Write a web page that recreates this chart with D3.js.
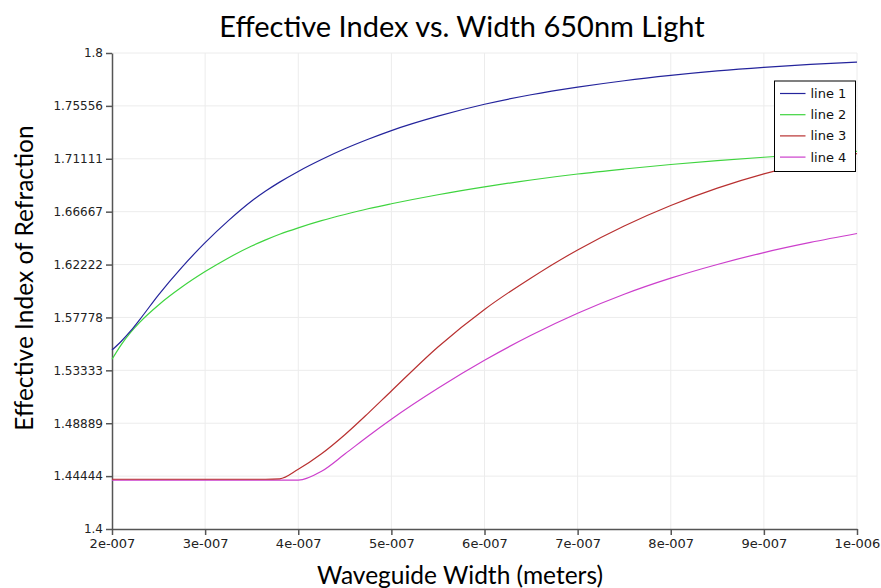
<!DOCTYPE html>
<html>
<head>
<meta charset="utf-8">
<script src="https://cdn.jsdelivr.net/npm/d3@7"></script>
<style>
  body { margin: 0; background: #fff; }
  svg { display: block; }
  .tick text { font-family: "DejaVu Sans", sans-serif; fill: #222; }
</style>
</head>
<body>
<figure id="chart" style="margin:0"></figure>
<script>
// waveguide widths (nm) shared by all series
var widthsNm = [200, 210, 220, 230, 250, 275, 300, 325, 350, 365, 380, 400, 425, 450, 475,
                500, 550, 600, 650, 700, 750, 800, 850, 900, 950, 1000];

var line1 = [1.5504, 1.5578, 1.5664, 1.5762, 1.5968, 1.6199, 1.6406, 1.6591, 1.6756, 1.6840, 1.6915, 1.7005, 1.7105, 1.7195, 1.7275,
             1.7348, 1.7469, 1.7569, 1.7649, 1.7713, 1.7767, 1.7812, 1.7850, 1.7880, 1.7904, 1.7924];
var line2 = [1.5426, 1.5550, 1.5652, 1.5739, 1.5883, 1.6033, 1.6163, 1.6278, 1.6378, 1.6430, 1.6477, 1.6531, 1.6591, 1.6643, 1.6691,
             1.6733, 1.6809, 1.6875, 1.6933, 1.6983, 1.7025, 1.7063, 1.7095, 1.7124, 1.7150, 1.7174];
var line3 = [1.4418, 1.4418, 1.4418, 1.4418, 1.4418, 1.4418, 1.4418, 1.4418, 1.4418, 1.4418, 1.4422, 1.4502, 1.4632, 1.4792, 1.4972,
             1.5160, 1.5530, 1.5845, 1.6110, 1.6345, 1.6546, 1.6718, 1.6864, 1.6984, 1.7079, 1.7154];
var line4 = [1.4410, 1.4410, 1.4410, 1.4410, 1.4410, 1.4410, 1.4410, 1.4410, 1.4410, 1.4410, 1.4410, 1.4410, 1.4485, 1.4630, 1.4780,
             1.4923, 1.5183, 1.5418, 1.5628, 1.5813, 1.5973, 1.6108, 1.6223, 1.6323, 1.6408, 1.6483];

var seriesNames = ["line 1", "line 2", "line 3", "line 4"];
var seriesColors = ["#24249c", "#3fd43f", "#b83030", "#cc3fcc"];

var xTicks = [2e-7, 3e-7, 4e-7, 5e-7, 6e-7, 7e-7, 8e-7, 9e-7, 1e-6];
var xTickLabels = ["2e-007", "3e-007", "4e-007", "5e-007", "6e-007", "7e-007", "8e-007", "9e-007", "1e-006"];
var yTicks = [1.4, 1.44444, 1.48889, 1.53333, 1.57778, 1.62222, 1.66667, 1.71111, 1.75556, 1.8];
var yTickLabels = ["1.4", "1.44444", "1.48889", "1.53333", "1.57778", "1.62222", "1.66667", "1.71111", "1.75556", "1.8"];

var margin = {top: 53, right: 24, bottom: 59, left: 112};
var W = 881, H = 588;
var width = W - margin.left - margin.right;
var height = H - margin.top - margin.bottom;

var svg = d3.select('#chart').append('svg')
    .attr('width', W)
    .attr('height', H);

var chart = svg.append('g')
    .attr('transform', 'translate(' + margin.left + ',' + margin.top + ')');

var x = d3.scaleLinear().domain([2e-7, 1e-6]).range([0, width]);
var y = d3.scaleLinear().domain([1.4, 1.8]).range([height, 0]);

// grid
chart.append('g').selectAll('line')
    .data(xTicks.slice(1))
    .enter().append('line')
    .attr('x1', function(d) { return x(d); })
    .attr('x2', function(d) { return x(d); })
    .attr('y1', 0).attr('y2', height)
    .style('stroke', '#ececec');
chart.append('g').selectAll('line')
    .data(yTicks.slice(1))
    .enter().append('line')
    .attr('y1', function(d) { return y(d); })
    .attr('y2', function(d) { return y(d); })
    .attr('x1', 0).attr('x2', width)
    .style('stroke', '#ececec');

// axes
var xAxis = d3.axisBottom(x)
    .tickValues(xTicks)
    .tickFormat(function(d, i) { return xTickLabels[i]; })
    .tickSize(6).tickSizeOuter(0).tickPadding(4);
var yAxis = d3.axisLeft(y)
    .tickValues(yTicks)
    .tickFormat(function(d, i) { return yTickLabels[i]; })
    .tickSize(6).tickSizeOuter(0).tickPadding(3);

var gx = chart.append('g')
    .attr('transform', 'translate(0,' + height + ')')
    .call(xAxis);
gx.selectAll('text').style('font-size', '13px');

var gy = chart.append('g').call(yAxis);
gy.selectAll('text').style('font-size', '12px');

[gx, gy].forEach(function(g) {
  g.select('.domain').style('stroke', '#555').style('stroke-width', 1.5);
  g.selectAll('.tick line').style('stroke', '#555').style('stroke-width', 1.5);
});

// lines
var seriesValues = [line1, line2, line3, line4];
var line = d3.line()
    .x(function(d) { return x(d[0] * 1e-9); })
    .y(function(d) { return y(d[1]); })
    .curve(d3.curveMonotoneX);

// draw in reverse so line 1 sits on top
[3, 2, 1, 0].forEach(function(k) {
  var pts = widthsNm.map(function(w, i) { return [w, seriesValues[k][i]]; });
  chart.append('path')
      .datum(pts)
      .attr('d', line)
      .style('fill', 'none')
      .style('stroke', seriesColors[k])
      .style('stroke-width', 1.2);
});

// legend
var legend = chart.append('g')
    .attr('transform', 'translate(' + (774.5 - margin.left) + ',' + (81 - margin.top) + ')');
legend.append('rect')
    .attr('width', 81).attr('height', 90.5)
    .style('fill', '#fff').style('stroke', '#000').style('stroke-width', 1);
seriesNames.forEach(function(name, i) {
  var ly = 12.5 + i * 21.2;
  legend.append('line')
      .attr('x1', 5.5).attr('x2', 31)
      .attr('y1', ly).attr('y2', ly)
      .style('stroke', seriesColors[i]).style('stroke-width', 1.2);
  legend.append('text')
      .attr('x', 36).attr('y', ly)
      .attr('dy', '0.35em')
      .style('font-family', '"DejaVu Sans", sans-serif')
      .style('font-size', '13px')
      .style('fill', '#111')
      .text(name);
});

// titles
svg.append('text')
    .attr('x', 462).attr('y', 37)
    .attr('text-anchor', 'middle')
    .style('font-family', 'Lato, sans-serif')
    .style('font-size', '29px')
    .text('Effective Index vs. Width 650nm Light');

svg.append('text')
    .attr('x', 460).attr('y', 584)
    .attr('text-anchor', 'middle')
    .style('font-family', 'Lato, sans-serif')
    .style('font-size', '24.5px')
    .text('Waveguide Width (meters)');

svg.append('text')
    .attr('transform', 'translate(33,278) rotate(-90)')
    .attr('text-anchor', 'middle')
    .style('font-family', 'Lato, sans-serif')
    .style('font-size', '24.5px')
    .text('Effective Index of Refraction');
</script>
</body>
</html>
